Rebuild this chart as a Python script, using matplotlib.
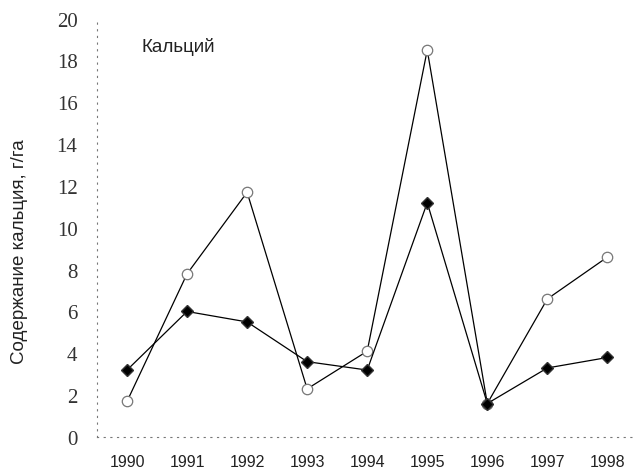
import matplotlib
matplotlib.use("Agg")
import matplotlib.pyplot as plt

years = ["1990", "1991", "1992", "1993", "1994", "1995", "1996", "1997", "1998"]
series_open = [1.7, 7.8, 11.7, 2.3, 4.1, 18.5, 1.6, 6.6, 8.6]
series_filled = [3.2, 6.0, 5.5, 3.6, 3.2, 11.2, 1.6, 3.3, 3.8]
y_ticks = [0, 2, 4, 6, 8, 10, 12, 14, 16, 18, 20]

fig = plt.figure(figsize=(6.36, 4.77), dpi=100)
ax = fig.add_axes([0.1525, 0.0818, 0.845, 0.877])

x = list(range(len(years)))
ax.plot(x, series_open, color="black", linewidth=0.9, marker="o", markersize=7.5,
        markerfacecolor="white", markeredgecolor="#777777", markeredgewidth=0.9, zorder=3)
ax.plot(x, series_filled, color="black", linewidth=0.9, marker="D", markersize=6.5,
        markerfacecolor="black", markeredgecolor="#333333", zorder=4)

ax.set_xlim(-0.5, 8.45)
ax.set_ylim(0, 20)
ax.set_xticks(x)
ax.set_xticklabels(years, family="Liberation Sans", fontsize=11.5, color="#222222")
ax.set_yticks(y_ticks)
ax.set_yticklabels([str(t) for t in y_ticks], family="Liberation Serif", fontsize=15,
                   color="#333333")
ax.tick_params(axis="both", length=0)
ax.tick_params(axis="x", pad=12)
ax.tick_params(axis="y", pad=14)

for side in ("top", "right"):
    ax.spines[side].set_visible(False)
for side in ("left", "bottom"):
    ax.spines[side].set_linestyle((0, (1, 5)))
    ax.spines[side].set_color("#777777")
    ax.spines[side].set_linewidth(0.8)

ax.set_ylabel("Содержание кальция, г/га", family="Liberation Sans", fontsize=13.5,
              color="#222222")
ax.yaxis.set_label_coords(-0.128, 0.445)
ax.text(0.083, 0.955, "Кальций", transform=ax.transAxes, family="Liberation Sans",
        fontsize=13.5, va="top", ha="left", color="#222222")

fig.savefig("out.png", dpi=100, facecolor="white")
